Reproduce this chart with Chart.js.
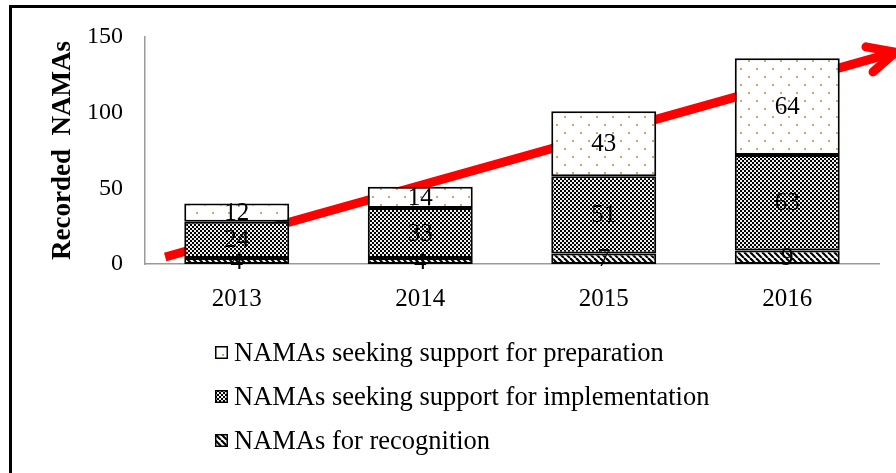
<!DOCTYPE html>
<html>
<head>
<meta charset="utf-8">
<script src="https://cdn.jsdelivr.net/npm/chart.js@4.4.0/dist/chart.umd.min.js"></script>
<style>
  html, body { margin: 0; padding: 0; background: #fff; }
  body { width: 896px; height: 473px; position: relative; overflow: hidden;
         font-family: 'Liberation Serif', 'Times New Roman', serif; }
  #frame { position: absolute; left: 9px; top: 5px; width: 1000px; height: 1000px;
           border: 3px solid #000; box-sizing: border-box; }
  #wrap { position: absolute; left: 0; top: 0; width: 896px; height: 473px; }
  #legend { position: absolute; left: 215px; top: 330px; font-size: 26.5px; color: #000; }
  #legend .row { height: 44px; display: flex; align-items: center; white-space: nowrap; }
  #legend canvas { width: 13px; height: 13px; margin-right: 6px; }
</style>
</head>
<body>
<div id="frame"></div>
<div id="wrap"><canvas id="c" width="896" height="473"></canvas></div>
<div id="legend"></div>
<script>
// data
const years = ['2013', '2014', '2015', '2016'];
const recognition = [4, 4, 7, 9];
const implementation = [24, 33, 51, 63];
const preparation = [12, 14, 43, 64];
const yTicks = [0, 50, 100, 150];
const seriesNames = [
  'NAMAs for recognition',
  'NAMAs seeking support for implementation',
  'NAMAs seeking support for preparation'
];
// red trend arrow, in category-index / value units
const trendX = [-0.39, 3.59];
const trendY = [4.6, 140];

const FONT = "'Liberation Serif', 'Times New Roman', serif";

function tile(w, h, draw, bg) {
  const c = document.createElement('canvas');
  c.width = w; c.height = h;
  const g = c.getContext('2d');
  g.fillStyle = bg || '#fff';
  g.fillRect(0, 0, w, h);
  draw(g);
  return c;
}
const dotTile = tile(16, 16, g => {
  g.fillStyle = '#d2a56b';
  g.fillRect(4, 4, 2, 2);
  g.fillRect(12, 12, 2, 2);
});
const checkTile = tile(4, 4, g => {
  g.fillStyle = '#f0f0f0';
  g.fillRect(0, 0, 2, 2);
  g.fillRect(2, 2, 2, 2);
}, '#000');
const diagTile = tile(6, 6, g => {
  g.strokeStyle = '#000';
  g.lineWidth = 2.2;
  for (const o of [-6, 0, 6]) {
    g.beginPath(); g.moveTo(o, 0); g.lineTo(o + 6, 6); g.stroke();
  }
});
const ctx = document.getElementById('c').getContext('2d');
const pat = t => ctx.createPattern(t, 'repeat');
const fills = [pat(diagTile), pat(checkTile), pat(dotTile)];
const values = [recognition, implementation, preparation];

const barLabels = {
  id: 'barLabels',
  afterDatasetsDraw(chart) {
    const c = chart.ctx;
    c.save();
    c.font = '25px ' + FONT;
    c.fillStyle = '#000';
    c.textAlign = 'center';
    c.textBaseline = 'middle';
    for (let i = 0; i < 3; i++) {
      chart.getDatasetMeta(i).data.forEach((el, j) => {
        const p = el.getProps(['x', 'y', 'base'], true);
        c.fillText(String(values[i][j]), p.x, (p.y + p.base) / 2 + 1);
      });
    }
    c.restore();
  }
};

const arrowHead = {
  id: 'arrowHead',
  afterDatasetDraw(chart, args) {
    if (args.index !== 3) return;
    const pts = args.meta.data;
    const a = pts[0], b = pts[pts.length - 1];
    const ang = Math.atan2(b.y - a.y, b.x - a.x);
    const len = 30, spread = 0.45;
    const c = chart.ctx;
    c.save();
    c.strokeStyle = '#ff0000';
    c.lineWidth = 9;
    c.lineCap = 'round';
    c.lineJoin = 'miter';
    c.beginPath();
    c.moveTo(b.x - len * Math.cos(ang - spread), b.y - len * Math.sin(ang - spread));
    c.lineTo(b.x, b.y);
    c.lineTo(b.x - len * Math.cos(ang + spread), b.y - len * Math.sin(ang + spread));
    c.stroke();
    c.restore();
  }
};

const barSets = values.map((v, i) => ({
  type: 'bar',
  label: seriesNames[i],
  data: v,
  backgroundColor: fills[i],
  borderColor: '#000',
  borderWidth: 2,
  borderSkipped: false,
  grouped: false,
  categoryPercentage: 1,
  barPercentage: 0.572,
  order: 1
}));

new Chart(ctx, {
  type: 'bar',
  data: {
    labels: years,
    datasets: [
      ...barSets,
      {
        type: 'line',
        label: 'trend',
        xAxisID: 'xt',
        data: trendX.map((x, i) => ({ x: x, y: trendY[i] })),
        borderColor: '#ff0000',
        borderWidth: 9,
        borderCapStyle: 'butt',
        pointRadius: 0,
        fill: false,
        clip: false,
        order: 5
      }
    ]
  },
  options: {
    responsive: false,
    animation: false,
    layout: { padding: { left: 0, top: 37, right: 17, bottom: 149 } },
    plugins: { legend: { display: false }, tooltip: { enabled: false } },
    scales: {
      x: {
        stacked: true,
        offset: true,
        grid: { display: false, drawTicks: false },
        border: { display: true, color: '#9a9a9a', width: 1.5 },
        ticks: { color: '#000', font: { family: FONT, size: 25 }, padding: 20 },
        afterFit: s => { s.height = 60; }
      },
      xt: {
        type: 'linear',
        display: false,
        offset: false,
        grid: { offset: false },
        min: -0.5,
        max: 3.5
      },
      y: {
        stacked: true,
        min: 0,
        max: 150,
        afterBuildTicks: s => { s.ticks = yTicks.map(v => ({ value: v })); },
        grid: { display: false, drawTicks: false },
        border: { display: true, color: '#9a9a9a', width: 1.5 },
        ticks: { color: '#000', font: { family: FONT, size: 24 }, padding: 22 },
        title: {
          display: true,
          text: 'Recorded  NAMAs',
          color: '#000',
          font: { family: FONT, size: 27, weight: 'bold' },
          padding: { top: 47, bottom: 0 }
        },
        afterFit: s => { s.width = 145; }
      }
    }
  },
  plugins: [barLabels, arrowHead]
});

// legend, listed top series first
const legend = document.getElementById('legend');
const swatchTiles = [diagTile, checkTile, dotTile];
for (let i = 2; i >= 0; i--) {
  const row = document.createElement('div');
  row.className = 'row';
  const sw = document.createElement('canvas');
  sw.width = 13; sw.height = 13;
  const g = sw.getContext('2d');
  g.fillStyle = g.createPattern(swatchTiles[i], 'repeat');
  g.fillRect(0, 0, 13, 13);
  if (i === 2) { g.fillStyle = '#fff'; g.fillRect(0, 0, 13, 13); g.fillStyle = '#d2a56b'; g.fillRect(7, 8, 2, 2); }
  g.strokeStyle = '#000';
  g.lineWidth = 1.5;
  g.strokeRect(0.75, 0.75, 11.5, 11.5);
  row.appendChild(sw);
  row.appendChild(document.createTextNode(seriesNames[i]));
  legend.appendChild(row);
}
</script>
</body>
</html>
